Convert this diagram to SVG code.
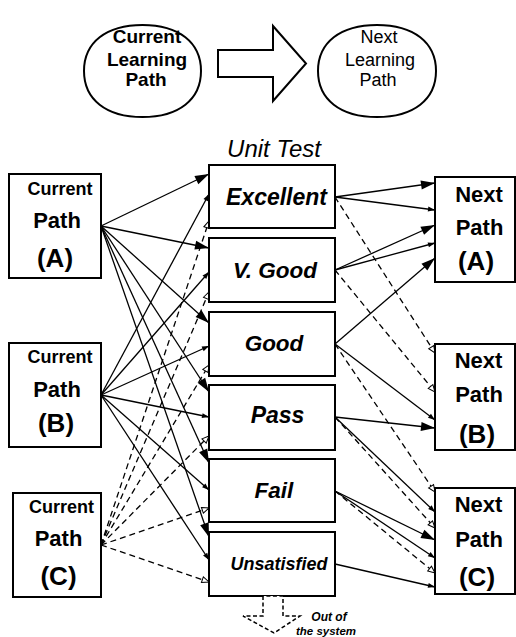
<svg xmlns="http://www.w3.org/2000/svg" width="516" height="637" viewBox="0 0 516 637">
<style>
text{font-family:"Liberation Sans",Arial,sans-serif;fill:#000}
.b{font-weight:bold}
.bi{font-weight:bold;font-style:italic}
.box{fill:#fff;stroke:#000;stroke-width:2}
.circ{fill:#fff;stroke:#000;stroke-width:2}
.s{fill:none;stroke:#000;stroke-width:1.3}
.d{fill:none;stroke:#000;stroke-width:1.3;stroke-dasharray:6 4}
.mb{marker-end:url(#mB)}
.ms{marker-end:url(#mS)}
.mo{marker-end:url(#mO)}
</style>
<defs>
<marker id="mB" markerUnits="userSpaceOnUse" markerWidth="15" markerHeight="10" refX="14" refY="4.5" orient="auto" overflow="visible"><path d="M0,0 L14,4.5 L0,9 z" fill="#000" stroke="none"/></marker>
<marker id="mS" markerUnits="userSpaceOnUse" markerWidth="8" markerHeight="6" refX="7" refY="2.5" orient="auto" overflow="visible"><path d="M0,0 L7,2.5 L0,5 z" fill="#000" stroke="none"/></marker>
<marker id="mO" markerUnits="userSpaceOnUse" markerWidth="9" markerHeight="8" refX="7" refY="3" orient="auto" overflow="visible"><path d="M0,0 L7,3 L0,6 z" fill="#fff" stroke="#000" stroke-width="1"/></marker>
</defs>
<rect width="516" height="637" fill="#fff"/>

<g id="legend-current">
<path class="circ" d="M84,71 C84,42.5 106.2,25 142.5,25 C178.8,25 201,42.5 201,71 C201,99.5 178.8,117 142.5,117 C106.2,117 84,99.5 84,71Z"/>
<text class="b" font-size="19" text-anchor="middle"><tspan x="147" y="43">Current</tspan><tspan x="147" y="65.5">Learning</tspan><tspan x="146" y="86">Path</tspan></text>
</g>
<g id="legend-arrow">
<polygon points="218,50 273,50 273,26 306,63.5 273,101 273,77 218,77" fill="#fff" stroke="#000" stroke-width="2"/>
</g>
<g id="legend-next">
<path class="circ" d="M318,71 C318,42.5 340.4,25 377,25 C413.6,25 436,42.5 436,71 C436,99.5 413.6,117 377,117 C340.4,117 318,99.5 318,71Z"/>
<text font-size="18" text-anchor="middle"><tspan x="379" y="43">Next</tspan><tspan x="380" y="65.5">Learning</tspan><tspan x="378" y="86">Path</tspan></text>
</g>
<text id="unit-test-title" font-size="24" font-style="italic" text-anchor="middle" x="274" y="157">Unit Test</text>

<g id="connectors">
<path class="s mb" d="M101,226 L209,174"/>
<path class="s mb" d="M101,226 L209,248"/>
<path class="s mb" d="M101,226 L209,323"/>
<path class="s mb" d="M101,226 L209,392"/>
<path class="s mb" d="M101,226 L209,463"/>
<path class="s mb" d="M101,226 L209,537"/>
<path class="s ms" d="M101,395 L209,194"/>
<path class="s ms" d="M101,395 L209,272"/>
<path class="s ms" d="M101,395 L209,346"/>
<path class="s ms" d="M101,395 L209,417"/>
<path class="s ms" d="M101,395 L209,490"/>
<path class="s ms" d="M101,395 L209,560"/>
<path class="d mo" d="M101,545 L209,221"/>
<path class="d mo" d="M101,545 L209,292"/>
<path class="d mo" d="M101,545 L209,365"/>
<path class="d mo" d="M101,545 L209,436"/>
<path class="d mo" d="M101,545 L209,508"/>
<path class="d mo" d="M101,545 L209,582"/>
<path class="s mb" d="M335,197 L435,183"/>
<path class="s ms" d="M335,197 L435,210"/>
<path class="d mo" d="M335,197 L435,353"/>
<path class="s mb" d="M335,270 L435,225"/>
<path class="s ms" d="M335,270 L435,243"/>
<path class="d mo" d="M335,270 L435,392"/>
<path class="s mb" d="M335,344 L435,258"/>
<path class="s ms" d="M335,344 L435,420"/>
<path class="d mo" d="M335,344 L435,492"/>
<path class="s mb" d="M335,417 L435,428"/>
<path class="s ms" d="M335,417 L435,512"/>
<path class="d mo" d="M335,417 L435,528"/>
<path class="s mb" d="M335,491 L435,540"/>
<path class="s ms" d="M335,491 L435,558"/>
<path class="d mo" d="M335,491 L435,573"/>
<path class="s ms" d="M335,564 L435,587"/>
</g>

<g id="current-a">
<rect class="box" x="9" y="174" width="92" height="104"/>
<text class="b" font-size="18" text-anchor="middle" x="60" y="195">Current</text>
<text class="b" font-size="22" text-anchor="middle" x="57" y="228">Path</text>
<text class="b" font-size="26" text-anchor="middle" x="55" y="267">(A)</text>
</g>
<g id="current-b">
<rect class="box" x="9" y="343" width="92" height="104"/>
<text class="b" font-size="18" text-anchor="middle" x="60" y="363">Current</text>
<text class="b" font-size="22" text-anchor="middle" x="57" y="397">Path</text>
<text class="b" font-size="26" text-anchor="middle" x="56" y="432">(B)</text>
</g>
<g id="current-c">
<rect class="box" x="13" y="493" width="88" height="104"/>
<text class="b" font-size="18" text-anchor="middle" x="61.5" y="513">Current</text>
<text class="b" font-size="22" text-anchor="middle" x="58.5" y="546">Path</text>
<text class="b" font-size="26" text-anchor="middle" x="58.5" y="585">(C)</text>
</g>

<g id="excellent">
<rect class="box" x="209" y="165" width="126" height="63"/>
<text class="bi" font-size="23" text-anchor="middle" x="276.5" y="205">Excellent</text>
</g>
<g id="vgood">
<rect class="box" x="209" y="238" width="126" height="64"/>
<text class="bi" font-size="22.5" text-anchor="middle" x="275" y="278">V. Good</text>
</g>
<g id="good">
<rect class="box" x="209" y="312" width="126" height="64"/>
<text class="bi" font-size="22.5" text-anchor="middle" x="274" y="351">Good</text>
</g>
<g id="pass">
<rect class="box" x="209" y="385" width="126" height="65"/>
<text class="bi" font-size="23" text-anchor="middle" x="277.5" y="423">Pass</text>
</g>
<g id="fail">
<rect class="box" x="209" y="459" width="126" height="63"/>
<text class="bi" font-size="22.5" text-anchor="middle" x="274" y="498">Fail</text>
</g>
<g id="unsatisfied">
<rect class="box" x="209" y="532" width="126" height="64"/>
<text class="bi" font-size="18" text-anchor="middle" x="279" y="570">Unsatisfied</text>
</g>

<g id="out-of-system">
<polygon points="263,596 263,616 243,616 274,633 300,616 283,616 283,596" fill="#fff" stroke="#000" stroke-width="1.5" stroke-dasharray="4 2.5"/>
<text class="bi" font-size="12" text-anchor="middle" x="329" y="621">Out of</text>
<text class="bi" font-size="11.5" text-anchor="middle" x="326" y="635">the system</text>
</g>

<g id="next-a">
<rect class="box" x="435" y="177" width="80" height="105"/>
<text class="b" font-size="22" text-anchor="middle" x="479" y="202">Next</text>
<text class="b" font-size="22" text-anchor="middle" x="479.5" y="235">Path</text>
<text class="b" font-size="26" text-anchor="middle" x="476" y="270">(A)</text>
</g>
<g id="next-b">
<rect class="box" x="435" y="344" width="80" height="106"/>
<text class="b" font-size="22" text-anchor="middle" x="478.5" y="368">Next</text>
<text class="b" font-size="22" text-anchor="middle" x="479" y="402">Path</text>
<text class="b" font-size="26" text-anchor="middle" x="477" y="443">(B)</text>
</g>
<g id="next-c">
<rect class="box" x="435" y="488" width="80" height="106"/>
<text class="b" font-size="22" text-anchor="middle" x="478.5" y="512">Next</text>
<text class="b" font-size="22" text-anchor="middle" x="479" y="547">Path</text>
<text class="b" font-size="26" text-anchor="middle" x="477" y="586">(C)</text>
</g>
</svg>
